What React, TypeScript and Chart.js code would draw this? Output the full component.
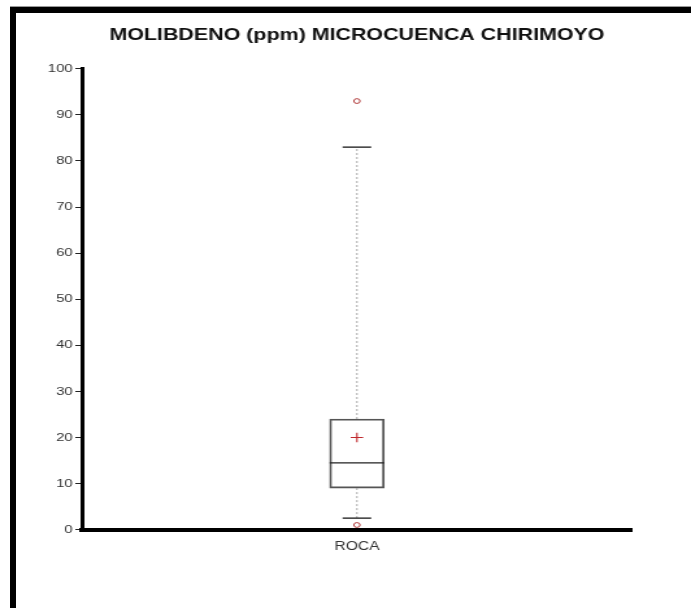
import React, { useEffect, useRef } from 'react';
import { Chart, registerables } from 'chart.js';

Chart.register(...registerables);

// ---- data ----
const categories = ['ROCA'];
const q1Values = [9];
const q3Values = [24];
const medianValues = [14.5];
const meanValues = [20];
const whiskerLowValues = [2.5];
const whiskerHighValues = [83];
const outlierValues = [93, 1];
const yMin = 0;
const yMax = 100;
const yStep = 10;
const titleText = 'MOLIBDENO (ppm) MICROCUENCA CHIRIMOYO';

// ---- rendering geometry (the reference is horizontally stretched) ----
const PAGE_W = 691;
const PAGE_H = 608;
const STRETCH = 1.3;
const CANVAS_W = Math.round(PAGE_W / STRETCH);
const FONT = "'Liberation Sans', Arial, Helvetica, sans-serif";

export default function App() {
  const ref = useRef<HTMLCanvasElement | null>(null);

  useEffect(() => {
    const canvas = ref.current;
    if (!canvas) return;
    const cat = categories[0];
    const chart = new Chart(canvas, {
      type: 'bar',
      data: {
        labels: categories,
        datasets: [
          {
            type: 'line',
            label: 'upper whisker',
            data: [
              { x: cat, y: q3Values[0] },
              { x: cat, y: whiskerHighValues[0] },
            ] as any,
            borderColor: '#a8a8a8',
            borderWidth: 1,
            borderDash: [2, 2],
            pointRadius: 0,
            order: 6,
          },
          {
            type: 'line',
            label: 'lower whisker',
            data: [
              { x: cat, y: whiskerLowValues[0] },
              { x: cat, y: q1Values[0] },
            ] as any,
            borderColor: '#a8a8a8',
            borderWidth: 1,
            borderDash: [2, 2],
            pointRadius: 0,
            order: 6,
          },
          {
            type: 'bar',
            label: 'box',
            data: q1Values.map((v, i) => [v, q3Values[i]]) as any,
            backgroundColor: 'rgba(255,255,255,0)',
            borderColor: '#555',
            borderWidth: 1.2,
            borderSkipped: false,
            barThickness: 42,
            order: 5,
          },
          {
            type: 'line',
            label: 'caps',
            data: [
              { x: cat, y: whiskerLowValues[0] },
              { x: cat, y: whiskerHighValues[0] },
            ] as any,
            showLine: false,
            pointStyle: 'line',
            pointRadius: 11,
            pointBorderColor: '#111',
            pointBorderWidth: 1.2,
            order: 4,
          },
          {
            type: 'line',
            label: 'median',
            data: medianValues,
            showLine: false,
            pointStyle: 'line',
            pointRadius: 21,
            pointBorderColor: '#222',
            pointBorderWidth: 1.2,
            order: 3,
          },
          {
            type: 'line',
            label: 'mean',
            data: meanValues,
            showLine: false,
            pointStyle: 'cross',
            pointRadius: 4.8,
            pointBorderColor: '#c0282d',
            pointBorderWidth: 1.1,
            order: 2,
          },
          {
            type: 'line',
            label: 'outliers',
            data: outlierValues.map((v) => ({ x: cat, y: v })) as any,
            showLine: false,
            pointStyle: 'circle',
            pointRadius: 2.4,
            pointBackgroundColor: '#ffffff',
            pointBorderColor: '#b03a3a',
            pointBorderWidth: 1,
            clip: false as any,
            order: 1,
          },
        ],
      },
      options: {
        responsive: false,
        animation: false,
        events: [],
        devicePixelRatio: 1,
        layout: { padding: { left: 0, right: 45.4, top: 0, bottom: 52 } },
        plugins: {
          legend: { display: false },
          tooltip: { enabled: false },
          title: {
            display: true,
            fullSize: false,
            text: titleText,
            color: '#111',
            font: { family: FONT, size: 16.5, weight: 'bold', lineHeight: 1.2 },
            padding: { top: 26, bottom: 23 },
          },
        },
        scales: {
          x: {
            type: 'category',
            offset: true,
            grid: { display: false },
            border: { display: true, color: '#000', width: 4 },
            ticks: { color: '#333', font: { family: FONT, size: 12 }, padding: 2 },
          },
          y: {
            type: 'linear',
            min: yMin,
            max: yMax,
            afterFit: (scale: any) => {
              scale.width = 63;
            },
            grid: {
              drawOnChartArea: false,
              drawTicks: true,
              tickLength: 5,
              color: '#222',
              lineWidth: 1,
            },
            border: { display: true, color: '#000', width: 3 },
            ticks: {
              stepSize: yStep,
              color: '#333',
              font: { family: FONT, size: 11.5 },
              padding: 2,
            },
          },
        },
      } as any,
    });
    return () => chart.destroy();
  }, []);

  return (
    <div style={{ position: 'fixed', left: 0, top: 0, width: PAGE_W, height: PAGE_H, background: '#fff', overflow: 'hidden' }}>
      <canvas
        ref={ref}
        width={CANVAS_W}
        height={PAGE_H}
        style={{ width: PAGE_W + 'px', height: PAGE_H + 'px', display: 'block' }}
      />
      <div style={{ position: 'absolute', left: 10, top: 6, width: PAGE_W, height: 1, background: '#9a9a9a' }} />
      <div
        style={{
          position: 'absolute',
          left: 10,
          top: 7,
          width: PAGE_W,
          height: PAGE_H,
          borderTop: '6px solid #000',
          borderLeft: '6px solid #000',
          boxSizing: 'border-box',
        }}
      />
    </div>
  );
}
